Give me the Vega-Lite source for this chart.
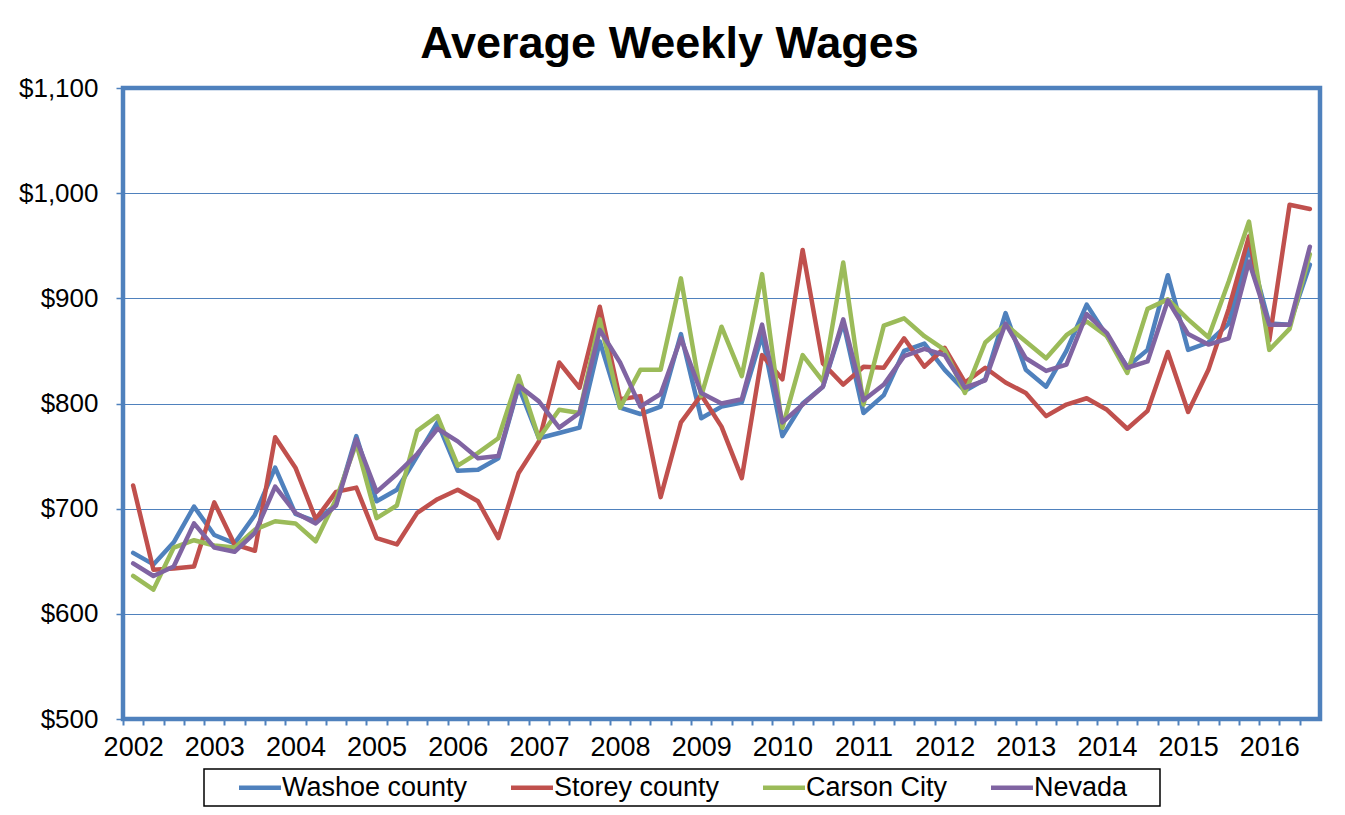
{
  "$schema": "https://vega.github.io/schema/vega-lite/v6.json",
  "width": 1197,
  "height": 631,
  "autosize": "none",
  "padding": {"left": 123, "top": 88, "right": 25, "bottom": 96},
  "background": "white",
  "title": {
    "text": "Average Weekly Wages",
    "font": "Liberation Sans",
    "fontSize": 45,
    "fontWeight": "bold",
    "color": "black",
    "anchor": "middle",
    "dx": -52,
    "offset": 8
  },
  "config": {
    "view": {"stroke": "#4F81BD", "strokeWidth": 4.5},
    "font": "Liberation Sans"
  },
  "data": {
    "values": [
      {"quarter":"2002 Q1","series":"Washoe county","wage":658},
      {"quarter":"2002 Q2","series":"Washoe county","wage":647},
      {"quarter":"2002 Q3","series":"Washoe county","wage":668},
      {"quarter":"2002 Q4","series":"Washoe county","wage":702},
      {"quarter":"2003 Q1","series":"Washoe county","wage":675},
      {"quarter":"2003 Q2","series":"Washoe county","wage":667},
      {"quarter":"2003 Q3","series":"Washoe county","wage":694},
      {"quarter":"2003 Q4","series":"Washoe county","wage":739},
      {"quarter":"2004 Q1","series":"Washoe county","wage":695},
      {"quarter":"2004 Q2","series":"Washoe county","wage":688},
      {"quarter":"2004 Q3","series":"Washoe county","wage":704},
      {"quarter":"2004 Q4","series":"Washoe county","wage":769},
      {"quarter":"2005 Q1","series":"Washoe county","wage":707},
      {"quarter":"2005 Q2","series":"Washoe county","wage":718},
      {"quarter":"2005 Q3","series":"Washoe county","wage":750},
      {"quarter":"2005 Q4","series":"Washoe county","wage":782},
      {"quarter":"2006 Q1","series":"Washoe county","wage":736},
      {"quarter":"2006 Q2","series":"Washoe county","wage":737},
      {"quarter":"2006 Q3","series":"Washoe county","wage":748},
      {"quarter":"2006 Q4","series":"Washoe county","wage":816},
      {"quarter":"2007 Q1","series":"Washoe county","wage":767},
      {"quarter":"2007 Q2","series":"Washoe county","wage":772},
      {"quarter":"2007 Q3","series":"Washoe county","wage":777},
      {"quarter":"2007 Q4","series":"Washoe county","wage":859},
      {"quarter":"2008 Q1","series":"Washoe county","wage":796},
      {"quarter":"2008 Q2","series":"Washoe county","wage":790},
      {"quarter":"2008 Q3","series":"Washoe county","wage":797},
      {"quarter":"2008 Q4","series":"Washoe county","wage":866},
      {"quarter":"2009 Q1","series":"Washoe county","wage":786},
      {"quarter":"2009 Q2","series":"Washoe county","wage":797},
      {"quarter":"2009 Q3","series":"Washoe county","wage":801},
      {"quarter":"2009 Q4","series":"Washoe county","wage":865},
      {"quarter":"2010 Q1","series":"Washoe county","wage":769},
      {"quarter":"2010 Q2","series":"Washoe county","wage":800},
      {"quarter":"2010 Q3","series":"Washoe county","wage":816},
      {"quarter":"2010 Q4","series":"Washoe county","wage":877},
      {"quarter":"2011 Q1","series":"Washoe county","wage":791},
      {"quarter":"2011 Q2","series":"Washoe county","wage":808},
      {"quarter":"2011 Q3","series":"Washoe county","wage":850},
      {"quarter":"2011 Q4","series":"Washoe county","wage":857},
      {"quarter":"2012 Q1","series":"Washoe county","wage":832},
      {"quarter":"2012 Q2","series":"Washoe county","wage":812},
      {"quarter":"2012 Q3","series":"Washoe county","wage":823},
      {"quarter":"2012 Q4","series":"Washoe county","wage":886},
      {"quarter":"2013 Q1","series":"Washoe county","wage":832},
      {"quarter":"2013 Q2","series":"Washoe county","wage":816},
      {"quarter":"2013 Q3","series":"Washoe county","wage":850},
      {"quarter":"2013 Q4","series":"Washoe county","wage":894},
      {"quarter":"2014 Q1","series":"Washoe county","wage":864},
      {"quarter":"2014 Q2","series":"Washoe county","wage":835},
      {"quarter":"2014 Q3","series":"Washoe county","wage":851},
      {"quarter":"2014 Q4","series":"Washoe county","wage":922},
      {"quarter":"2015 Q1","series":"Washoe county","wage":851},
      {"quarter":"2015 Q2","series":"Washoe county","wage":858},
      {"quarter":"2015 Q3","series":"Washoe county","wage":876},
      {"quarter":"2015 Q4","series":"Washoe county","wage":948},
      {"quarter":"2016 Q1","series":"Washoe county","wage":876},
      {"quarter":"2016 Q2","series":"Washoe county","wage":875},
      {"quarter":"2016 Q3","series":"Washoe county","wage":932},

      {"quarter":"2002 Q1","series":"Storey county","wage":722},
      {"quarter":"2002 Q2","series":"Storey county","wage":642},
      {"quarter":"2002 Q3","series":"Storey county","wage":643},
      {"quarter":"2002 Q4","series":"Storey county","wage":645},
      {"quarter":"2003 Q1","series":"Storey county","wage":706},
      {"quarter":"2003 Q2","series":"Storey county","wage":666},
      {"quarter":"2003 Q3","series":"Storey county","wage":660},
      {"quarter":"2003 Q4","series":"Storey county","wage":768},
      {"quarter":"2004 Q1","series":"Storey county","wage":739},
      {"quarter":"2004 Q2","series":"Storey county","wage":690},
      {"quarter":"2004 Q3","series":"Storey county","wage":716},
      {"quarter":"2004 Q4","series":"Storey county","wage":720},
      {"quarter":"2005 Q1","series":"Storey county","wage":672},
      {"quarter":"2005 Q2","series":"Storey county","wage":666},
      {"quarter":"2005 Q3","series":"Storey county","wage":696},
      {"quarter":"2005 Q4","series":"Storey county","wage":709},
      {"quarter":"2006 Q1","series":"Storey county","wage":718},
      {"quarter":"2006 Q2","series":"Storey county","wage":707},
      {"quarter":"2006 Q3","series":"Storey county","wage":672},
      {"quarter":"2006 Q4","series":"Storey county","wage":734},
      {"quarter":"2007 Q1","series":"Storey county","wage":764},
      {"quarter":"2007 Q2","series":"Storey county","wage":839},
      {"quarter":"2007 Q3","series":"Storey county","wage":815},
      {"quarter":"2007 Q4","series":"Storey county","wage":892},
      {"quarter":"2008 Q1","series":"Storey county","wage":804},
      {"quarter":"2008 Q2","series":"Storey county","wage":807},
      {"quarter":"2008 Q3","series":"Storey county","wage":711},
      {"quarter":"2008 Q4","series":"Storey county","wage":782},
      {"quarter":"2009 Q1","series":"Storey county","wage":808},
      {"quarter":"2009 Q2","series":"Storey county","wage":778},
      {"quarter":"2009 Q3","series":"Storey county","wage":729},
      {"quarter":"2009 Q4","series":"Storey county","wage":846},
      {"quarter":"2010 Q1","series":"Storey county","wage":823},
      {"quarter":"2010 Q2","series":"Storey county","wage":946},
      {"quarter":"2010 Q3","series":"Storey county","wage":838},
      {"quarter":"2010 Q4","series":"Storey county","wage":818},
      {"quarter":"2011 Q1","series":"Storey county","wage":835},
      {"quarter":"2011 Q2","series":"Storey county","wage":834},
      {"quarter":"2011 Q3","series":"Storey county","wage":862},
      {"quarter":"2011 Q4","series":"Storey county","wage":835},
      {"quarter":"2012 Q1","series":"Storey county","wage":853},
      {"quarter":"2012 Q2","series":"Storey county","wage":820},
      {"quarter":"2012 Q3","series":"Storey county","wage":834},
      {"quarter":"2012 Q4","series":"Storey county","wage":820},
      {"quarter":"2013 Q1","series":"Storey county","wage":810},
      {"quarter":"2013 Q2","series":"Storey county","wage":788},
      {"quarter":"2013 Q3","series":"Storey county","wage":799},
      {"quarter":"2013 Q4","series":"Storey county","wage":805},
      {"quarter":"2014 Q1","series":"Storey county","wage":794},
      {"quarter":"2014 Q2","series":"Storey county","wage":776},
      {"quarter":"2014 Q3","series":"Storey county","wage":793},
      {"quarter":"2014 Q4","series":"Storey county","wage":849},
      {"quarter":"2015 Q1","series":"Storey county","wage":792},
      {"quarter":"2015 Q2","series":"Storey county","wage":832},
      {"quarter":"2015 Q3","series":"Storey county","wage":890},
      {"quarter":"2015 Q4","series":"Storey county","wage":959},
      {"quarter":"2016 Q1","series":"Storey county","wage":860},
      {"quarter":"2016 Q2","series":"Storey county","wage":989},
      {"quarter":"2016 Q3","series":"Storey county","wage":985},

      {"quarter":"2002 Q1","series":"Carson City","wage":636},
      {"quarter":"2002 Q2","series":"Carson City","wage":623},
      {"quarter":"2002 Q3","series":"Carson City","wage":663},
      {"quarter":"2002 Q4","series":"Carson City","wage":670},
      {"quarter":"2003 Q1","series":"Carson City","wage":665},
      {"quarter":"2003 Q2","series":"Carson City","wage":663},
      {"quarter":"2003 Q3","series":"Carson City","wage":680},
      {"quarter":"2003 Q4","series":"Carson City","wage":688},
      {"quarter":"2004 Q1","series":"Carson City","wage":686},
      {"quarter":"2004 Q2","series":"Carson City","wage":669},
      {"quarter":"2004 Q3","series":"Carson City","wage":709},
      {"quarter":"2004 Q4","series":"Carson City","wage":762},
      {"quarter":"2005 Q1","series":"Carson City","wage":691},
      {"quarter":"2005 Q2","series":"Carson City","wage":703},
      {"quarter":"2005 Q3","series":"Carson City","wage":774},
      {"quarter":"2005 Q4","series":"Carson City","wage":788},
      {"quarter":"2006 Q1","series":"Carson City","wage":741},
      {"quarter":"2006 Q2","series":"Carson City","wage":753},
      {"quarter":"2006 Q3","series":"Carson City","wage":767},
      {"quarter":"2006 Q4","series":"Carson City","wage":826},
      {"quarter":"2007 Q1","series":"Carson City","wage":767},
      {"quarter":"2007 Q2","series":"Carson City","wage":794},
      {"quarter":"2007 Q3","series":"Carson City","wage":791},
      {"quarter":"2007 Q4","series":"Carson City","wage":880},
      {"quarter":"2008 Q1","series":"Carson City","wage":796},
      {"quarter":"2008 Q2","series":"Carson City","wage":832},
      {"quarter":"2008 Q3","series":"Carson City","wage":832},
      {"quarter":"2008 Q4","series":"Carson City","wage":919},
      {"quarter":"2009 Q1","series":"Carson City","wage":807},
      {"quarter":"2009 Q2","series":"Carson City","wage":873},
      {"quarter":"2009 Q3","series":"Carson City","wage":826},
      {"quarter":"2009 Q4","series":"Carson City","wage":923},
      {"quarter":"2010 Q1","series":"Carson City","wage":777},
      {"quarter":"2010 Q2","series":"Carson City","wage":846},
      {"quarter":"2010 Q3","series":"Carson City","wage":821},
      {"quarter":"2010 Q4","series":"Carson City","wage":934},
      {"quarter":"2011 Q1","series":"Carson City","wage":799},
      {"quarter":"2011 Q2","series":"Carson City","wage":874},
      {"quarter":"2011 Q3","series":"Carson City","wage":881},
      {"quarter":"2011 Q4","series":"Carson City","wage":864},
      {"quarter":"2012 Q1","series":"Carson City","wage":851},
      {"quarter":"2012 Q2","series":"Carson City","wage":810},
      {"quarter":"2012 Q3","series":"Carson City","wage":858},
      {"quarter":"2012 Q4","series":"Carson City","wage":875},
      {"quarter":"2013 Q1","series":"Carson City","wage":859},
      {"quarter":"2013 Q2","series":"Carson City","wage":843},
      {"quarter":"2013 Q3","series":"Carson City","wage":865},
      {"quarter":"2013 Q4","series":"Carson City","wage":878},
      {"quarter":"2014 Q1","series":"Carson City","wage":864},
      {"quarter":"2014 Q2","series":"Carson City","wage":829},
      {"quarter":"2014 Q3","series":"Carson City","wage":890},
      {"quarter":"2014 Q4","series":"Carson City","wage":899},
      {"quarter":"2015 Q1","series":"Carson City","wage":880},
      {"quarter":"2015 Q2","series":"Carson City","wage":863},
      {"quarter":"2015 Q3","series":"Carson City","wage":916},
      {"quarter":"2015 Q4","series":"Carson City","wage":973},
      {"quarter":"2016 Q1","series":"Carson City","wage":851},
      {"quarter":"2016 Q2","series":"Carson City","wage":871},
      {"quarter":"2016 Q3","series":"Carson City","wage":942},

      {"quarter":"2002 Q1","series":"Nevada","wage":648},
      {"quarter":"2002 Q2","series":"Nevada","wage":636},
      {"quarter":"2002 Q3","series":"Nevada","wage":645},
      {"quarter":"2002 Q4","series":"Nevada","wage":686},
      {"quarter":"2003 Q1","series":"Nevada","wage":663},
      {"quarter":"2003 Q2","series":"Nevada","wage":659},
      {"quarter":"2003 Q3","series":"Nevada","wage":677},
      {"quarter":"2003 Q4","series":"Nevada","wage":721},
      {"quarter":"2004 Q1","series":"Nevada","wage":696},
      {"quarter":"2004 Q2","series":"Nevada","wage":686},
      {"quarter":"2004 Q3","series":"Nevada","wage":703},
      {"quarter":"2004 Q4","series":"Nevada","wage":766},
      {"quarter":"2005 Q1","series":"Nevada","wage":716},
      {"quarter":"2005 Q2","series":"Nevada","wage":733},
      {"quarter":"2005 Q3","series":"Nevada","wage":752},
      {"quarter":"2005 Q4","series":"Nevada","wage":776},
      {"quarter":"2006 Q1","series":"Nevada","wage":764},
      {"quarter":"2006 Q2","series":"Nevada","wage":748},
      {"quarter":"2006 Q3","series":"Nevada","wage":750},
      {"quarter":"2006 Q4","series":"Nevada","wage":817},
      {"quarter":"2007 Q1","series":"Nevada","wage":802},
      {"quarter":"2007 Q2","series":"Nevada","wage":777},
      {"quarter":"2007 Q3","series":"Nevada","wage":791},
      {"quarter":"2007 Q4","series":"Nevada","wage":870},
      {"quarter":"2008 Q1","series":"Nevada","wage":839},
      {"quarter":"2008 Q2","series":"Nevada","wage":797},
      {"quarter":"2008 Q3","series":"Nevada","wage":809},
      {"quarter":"2008 Q4","series":"Nevada","wage":862},
      {"quarter":"2009 Q1","series":"Nevada","wage":810},
      {"quarter":"2009 Q2","series":"Nevada","wage":800},
      {"quarter":"2009 Q3","series":"Nevada","wage":804},
      {"quarter":"2009 Q4","series":"Nevada","wage":875},
      {"quarter":"2010 Q1","series":"Nevada","wage":782},
      {"quarter":"2010 Q2","series":"Nevada","wage":799},
      {"quarter":"2010 Q3","series":"Nevada","wage":816},
      {"quarter":"2010 Q4","series":"Nevada","wage":880},
      {"quarter":"2011 Q1","series":"Nevada","wage":803},
      {"quarter":"2011 Q2","series":"Nevada","wage":818},
      {"quarter":"2011 Q3","series":"Nevada","wage":845},
      {"quarter":"2011 Q4","series":"Nevada","wage":852},
      {"quarter":"2012 Q1","series":"Nevada","wage":846},
      {"quarter":"2012 Q2","series":"Nevada","wage":815},
      {"quarter":"2012 Q3","series":"Nevada","wage":822},
      {"quarter":"2012 Q4","series":"Nevada","wage":876},
      {"quarter":"2013 Q1","series":"Nevada","wage":843},
      {"quarter":"2013 Q2","series":"Nevada","wage":831},
      {"quarter":"2013 Q3","series":"Nevada","wage":837},
      {"quarter":"2013 Q4","series":"Nevada","wage":885},
      {"quarter":"2014 Q1","series":"Nevada","wage":867},
      {"quarter":"2014 Q2","series":"Nevada","wage":834},
      {"quarter":"2014 Q3","series":"Nevada","wage":840},
      {"quarter":"2014 Q4","series":"Nevada","wage":898},
      {"quarter":"2015 Q1","series":"Nevada","wage":866},
      {"quarter":"2015 Q2","series":"Nevada","wage":856},
      {"quarter":"2015 Q3","series":"Nevada","wage":862},
      {"quarter":"2015 Q4","series":"Nevada","wage":935},
      {"quarter":"2016 Q1","series":"Nevada","wage":875},
      {"quarter":"2016 Q2","series":"Nevada","wage":875},
      {"quarter":"2016 Q3","series":"Nevada","wage":949}
    ]
  },
  "mark": {"type": "line", "strokeWidth": 4.5, "strokeJoin": "round", "strokeCap": "round", "clip": false},
  "encoding": {
    "x": {
      "field": "quarter",
      "type": "ordinal",
      "sort": "ascending",
      "scale": {"type": "point", "padding": 0.5},
      "axis": {
        "title": null,
        "domain": false,
        "grid": false,
        "ticks": true,
        "tickColor": "#4F81BD",
        "tickSize": 6,
        "tickWidth": 2,
        "tickOffset": -10.146,
        "labelOffset": 10.146,
        "labelAngle": 0,
        "labelOverlap": false,
        "labelFlush": false,
        "labelBound": false,
        "labelFont": "Liberation Sans",
        "labelFontSize": 27,
        "labelColor": "black",
        "labelPadding": 9,
        "labelExpr": "indexof(datum.value, 'Q1') >= 0 ? slice(datum.value, 0, 4) : ''"
      }
    },
    "y": {
      "field": "wage",
      "type": "quantitative",
      "scale": {"domain": [500, 1100], "nice": false, "zero": false},
      "axis": {
        "title": null,
        "values": [500, 600, 700, 800, 900, 1000, 1100],
        "format": "$,.0f",
        "domain": false,
        "grid": true,
        "gridColor": "#4F81BD",
        "gridWidth": 1,
        "ticks": true,
        "tickColor": "#4F81BD",
        "tickSize": 7,
        "tickWidth": 1.5,
        "labelFont": "Liberation Sans",
        "labelFontSize": 26,
        "labelColor": "black",
        "labelPadding": 18
      }
    },
    "color": {
      "field": "series",
      "type": "nominal",
      "scale": {
        "domain": ["Washoe county", "Storey county", "Carson City", "Nevada"],
        "range": ["#4F81BD", "#C0504D", "#9BBB59", "#8064A2"]
      },
      "legend": {
        "orient": "none",
        "legendX": 81,
        "legendY": 681,
        "direction": "horizontal",
        "columns": 4,
        "title": "\u00a0",
        "titleOrient": "left",
        "titleFont": "Liberation Sans",
        "titleFontSize": 27,
        "titlePadding": 27,
        "symbolType": "M-1,0H3",
        "symbolSize": 441,
        "symbolStrokeWidth": 4.5,
        "labelFont": "Liberation Sans",
        "labelFontSize": 27,
        "labelColor": "black",
        "labelLimit": 500,
        "labelOffset": 19,
        "columnPadding": 34,
        "padding": 5,
        "strokeColor": "black",
        "encode": {"legend": {"update": {"strokeWidth": {"value": 1.5}}}},
        "labelExpr": "datum.label == 'Nevada' ? 'Nevada\u00a0\u2800' : datum.label"
      }
    }
  }
}
